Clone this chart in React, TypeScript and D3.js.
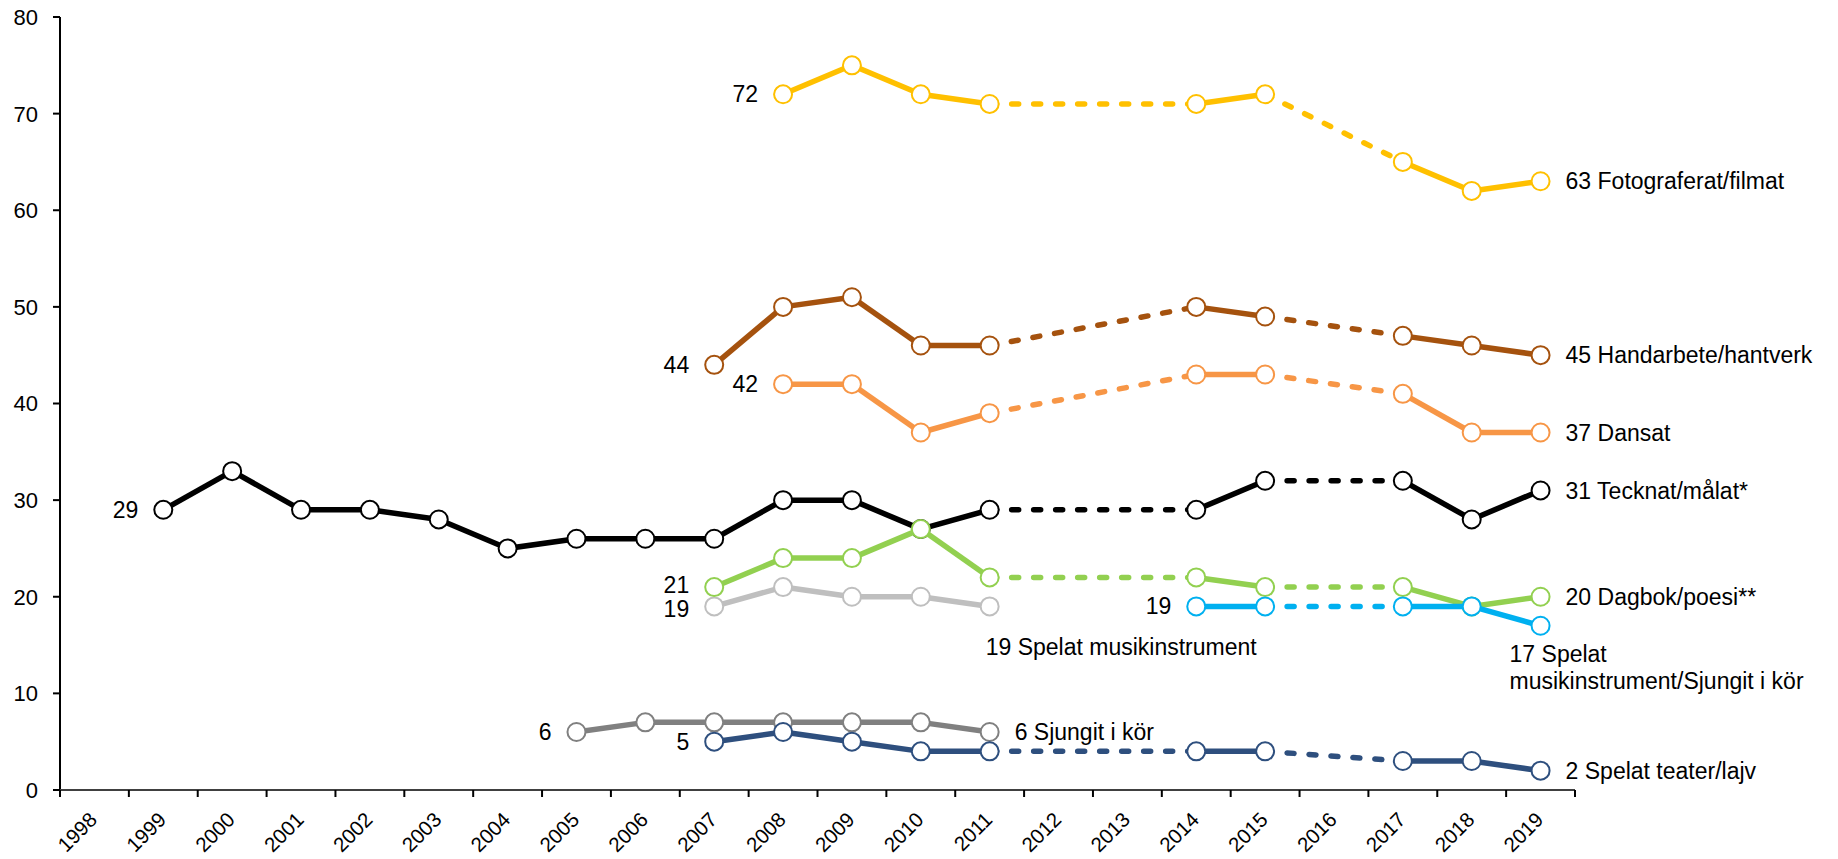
import React from "react";
import * as d3 from "d3";

const width = 1838;
const height = 859;
const margin = { top: 17, right: 263, bottom: 69, left: 60 };
const font = "'Liberation Sans', Arial, sans-serif";

// data
const years = [
  "1998", "1999", "2000", "2001", "2002", "2003", "2004", "2005", "2006", "2007", "2008",
  "2009", "2010", "2011", "2012", "2013", "2014", "2015", "2016", "2017", "2018", "2019",
];
const yTicks = [0, 10, 20, 30, 40, 50, 60, 70, 80];

type V = number | null;
const _ = null;
const foto: V[] = [_, _, _, _, _, _, _, _, _, _, 72, 75, 72, 71, _, _, 71, 72, _, 65, 62, 63];
const handarbete: V[] = [_, _, _, _, _, _, _, _, _, 44, 50, 51, 46, 46, _, _, 50, 49, _, 47, 46, 45];
const dansat: V[] = [_, _, _, _, _, _, _, _, _, _, 42, 42, 37, 39, _, _, 43, 43, _, 41, 37, 37];
const musik: V[] = [_, _, _, _, _, _, _, _, _, 19, 21, 20, 20, 19, _, _, _, _, _, _, _, _];
const sjungit: V[] = [_, _, _, _, _, _, _, 6, 7, 7, 7, 7, 7, 6, _, _, _, _, _, _, _, _];
const tecknat: V[] = [_, 29, 33, 29, 29, 28, 25, 26, 26, 26, 30, 30, 27, 29, _, _, 29, 32, _, 32, 28, 31];
const dagbok: V[] = [_, _, _, _, _, _, _, _, _, 21, 24, 24, 27, 22, _, _, 22, 21, _, 21, 19, 20];
const musikSjung: V[] = [_, _, _, _, _, _, _, _, _, _, _, _, _, _, _, _, 19, 19, _, 19, 19, 17];
const teater: V[] = [_, _, _, _, _, _, _, _, _, 5, 6, 5, 4, 4, _, _, 4, 4, _, 3, 3, 2];

const series = [
  { key: "foto", values: foto, color: "#FFC000" },
  { key: "handarbete", values: handarbete, color: "#A5520E" },
  { key: "dansat", values: dansat, color: "#F79646" },
  { key: "musik", values: musik, color: "#BFBFBF" },
  { key: "sjungit", values: sjungit, color: "#808080" },
  { key: "tecknat", values: tecknat, color: "#000000" },
  { key: "dagbok", values: dagbok, color: "#92D050" },
  { key: "musikSjung", values: musikSjung, color: "#00B0F0" },
  { key: "teater", values: teater, color: "#2E4F7E" },
];

// labels: [series, year, text lines, placement]
const labels: [string, string, string[], string][] = [
  ["tecknat", "1999", ["29"], "left"],
  ["foto", "2008", ["72"], "left"],
  ["handarbete", "2007", ["44"], "left"],
  ["dansat", "2008", ["42"], "left"],
  ["dagbok", "2007", ["21"], "leftUp"],
  ["musik", "2007", ["19"], "leftDown"],
  ["sjungit", "2005", ["6"], "left"],
  ["teater", "2007", ["5"], "left"],
  ["musikSjung", "2014", ["19"], "left"],
  ["foto", "2019", ["63 Fotograferat/filmat"], "right"],
  ["handarbete", "2019", ["45 Handarbete/hantverk"], "right"],
  ["dansat", "2019", ["37 Dansat"], "right"],
  ["tecknat", "2019", ["31 Tecknat/målat*"], "right"],
  ["dagbok", "2019", ["20 Dagbok/poesi**"], "right"],
  ["teater", "2019", ["2 Spelat teater/lajv"], "right"],
  ["sjungit", "2011", ["6 Sjungit i kör"], "right"],
  ["musik", "2011", ["19 Spelat musikinstrument"], "below"],
  ["musikSjung", "2019", ["17 Spelat", "musikinstrument/Sjungit i kör"], "belowLeft"],
];

export default function App() {
  const innerW = width - margin.left - margin.right;
  const innerH = height - margin.top - margin.bottom;

  const x = d3.scaleBand<string>().domain(years).range([0, innerW]).paddingInner(0).paddingOuter(0);
  const y = d3.scaleLinear().domain([0, 80]).range([innerH, 0]);
  const cx = (yr: string) => (x(yr) as number) + x.bandwidth() / 2;

  const lineGen = d3
    .line<[string, number]>()
    .x((d) => cx(d[0]))
    .y((d) => y(d[1]));

  // solid between neighbouring years, dashed across missing years
  const segmentsOf = (values: V[]) => {
    const pts = values
      .map((v, i) => [years[i], v, i] as [string, V, number])
      .filter((d) => d[1] !== null) as [string, number, number][];
    const segs: { d: string; dashed: boolean }[] = [];
    for (let i = 1; i < pts.length; i++) {
      const a = pts[i - 1];
      const b = pts[i];
      segs.push({
        d: lineGen([[a[0], a[1]], [b[0], b[1]]]) as string,
        dashed: b[2] - a[2] > 1,
      });
    }
    return { pts, segs };
  };

  const bounds = years.map((yr) => x(yr) as number).concat([innerW]);

  return (
    <svg
      width={width}
      height={height}
      style={{ position: "fixed", left: 0, top: 0, background: "#fff" }}
      fontFamily={font}
    >
      <g transform={`translate(${margin.left},${margin.top})`}>
        {/* y axis */}
        <line x1={0} x2={0} y1={0} y2={innerH} stroke="#000" strokeWidth={2} />
        {yTicks.map((t) => (
          <g key={t} transform={`translate(0,${y(t)})`}>
            <line x1={-7} x2={0} stroke="#000" strokeWidth={2} />
            <text x={-22} dy="0.36em" textAnchor="end" fontSize={22} fill="#000">
              {t}
            </text>
          </g>
        ))}
        {/* x axis */}
        <line x1={0} x2={innerW} y1={innerH} y2={innerH} stroke="#404040" strokeWidth={2} />
        {bounds.map((b, i) => (
          <line key={i} x1={b} x2={b} y1={innerH} y2={innerH + 7} stroke="#000" strokeWidth={2} />
        ))}
        {years.map((yr) => (
          <text
            key={yr}
            transform={`translate(${cx(yr) + 4},${innerH + 31}) rotate(-45)`}
            textAnchor="end"
            fontSize={20.5}
            fill="#000"
          >
            {yr}
          </text>
        ))}

        {/* series */}
        {series.map((s) => {
          const { pts, segs } = segmentsOf(s.values);
          return (
            <g key={s.key}>
              {segs.map((sg, i) => (
                <path
                  key={i}
                  d={sg.d}
                  fill="none"
                  stroke={s.color}
                  strokeWidth={5.5}
                  strokeDasharray={sg.dashed ? "7 15" : undefined}
                  strokeLinecap={sg.dashed ? "round" : "butt"}
                  strokeLinejoin="round"
                />
              ))}
              {pts.map((p) => (
                <circle
                  key={p[0]}
                  cx={cx(p[0])}
                  cy={y(p[1])}
                  r={9}
                  fill="#fff"
                  stroke={s.color}
                  strokeWidth={2}
                />
              ))}
            </g>
          );
        })}

        {/* labels */}
        {labels.map(([key, yr, lines, place], i) => {
          const s = series.find((d) => d.key === key)!;
          const v = s.values[years.indexOf(yr)] as number;
          const px = cx(yr);
          const py = y(v);
          let tx = px + 25;
          let ty = py;
          let anchor = "start";
          if (place.startsWith("left")) {
            tx = px - 25;
            anchor = "end";
            if (place === "leftUp") ty = py - 2;
            if (place === "leftDown") ty = py + 3;
          } else if (place === "below") {
            tx = px - 4;
            ty = py + 41;
          } else if (place === "belowLeft") {
            tx = px - 31;
            ty = py + 28;
          }
          return (
            <text key={i} x={tx} y={ty} textAnchor={anchor} fontSize={23} fill="#000">
              {lines.map((ln, j) => (
                <tspan key={j} x={tx} dy={j === 0 ? "0.35em" : 27}>
                  {ln}
                </tspan>
              ))}
            </text>
          );
        })}
      </g>
    </svg>
  );
}
